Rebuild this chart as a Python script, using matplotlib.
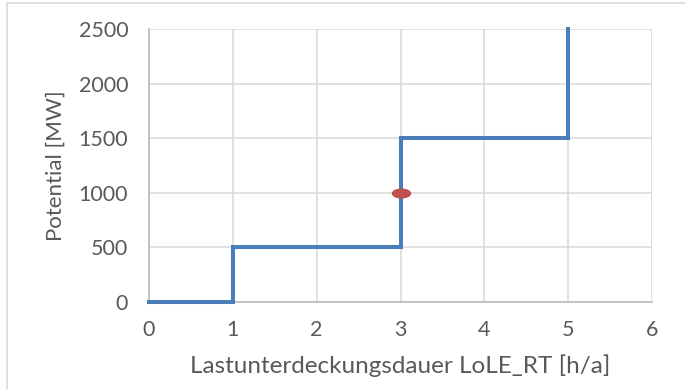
import numpy as np
import matplotlib.pyplot as plt
from matplotlib.path import Path
from matplotlib.patches import Rectangle
from matplotlib.transforms import Affine2D

plt.rcParams['font.family'] = ['Lato', 'DejaVu Sans']

# Treppenfunktion: Potential ueber Lastunterdeckungsdauer
stufen_x = [0, 1, 3, 5]
stufen_y = [0, 500, 1500, 2500]
punkt_x = [3]
punkt_y = [1000]

x_ticks = [0, 1, 2, 3, 4, 5, 6]
y_ticks = [0, 500, 1000, 1500, 2000, 2500]

blau = '#4a7ebb'
rot = '#c0504d'
grau = '#595959'

fig = plt.figure(figsize=(6.85, 3.89), dpi=100)
ax = fig.add_axes([149 / 685, 87 / 389, 503 / 685, 273 / 389])

ax.plot(stufen_x, stufen_y, drawstyle='steps-post', color=blau, lw=2.9,
        solid_joinstyle='miter', zorder=3, clip_on=False)

ellipse = Path.unit_circle().transformed(Affine2D().scale(1, 0.48))
ax.plot(punkt_x, punkt_y, ls='none', marker=ellipse, ms=13,
        color=rot, mec=rot, zorder=4)

ax.set_xlim(0, 6)
ax.set_ylim(0, 2500)
ax.set_xticks(x_ticks)
ax.set_yticks(y_ticks)
ax.grid(True, color='#d9d9d9', lw=1.1)
ax.set_axisbelow(True)
ax.tick_params(length=0, labelsize=15.5, colors=grau)
ax.tick_params(axis='y', pad=15)
ax.tick_params(axis='x', pad=13)

for s in ['top', 'right']:
    ax.spines[s].set_visible(False)
for s in ['left', 'bottom']:
    ax.spines[s].set_color('#bfbfbf')
    ax.spines[s].set_linewidth(1.3)

ax.set_xlabel('Lastunterdeckungsdauer LoLE_RT [h/a]', fontsize=17.5, color=grau, labelpad=10)
ax.set_ylabel('Potential [MW]', fontsize=16, color=grau, labelpad=9)

# Rahmen um das Diagramm
fig.patches.append(Rectangle((7 / 685, -0.05), 1.0, 1 - 3 / 389 + 0.05,
                             transform=fig.transFigure, fill=False,
                             ec='#d9d9d9', lw=1.2))

fig.savefig('out.png', dpi=100)
